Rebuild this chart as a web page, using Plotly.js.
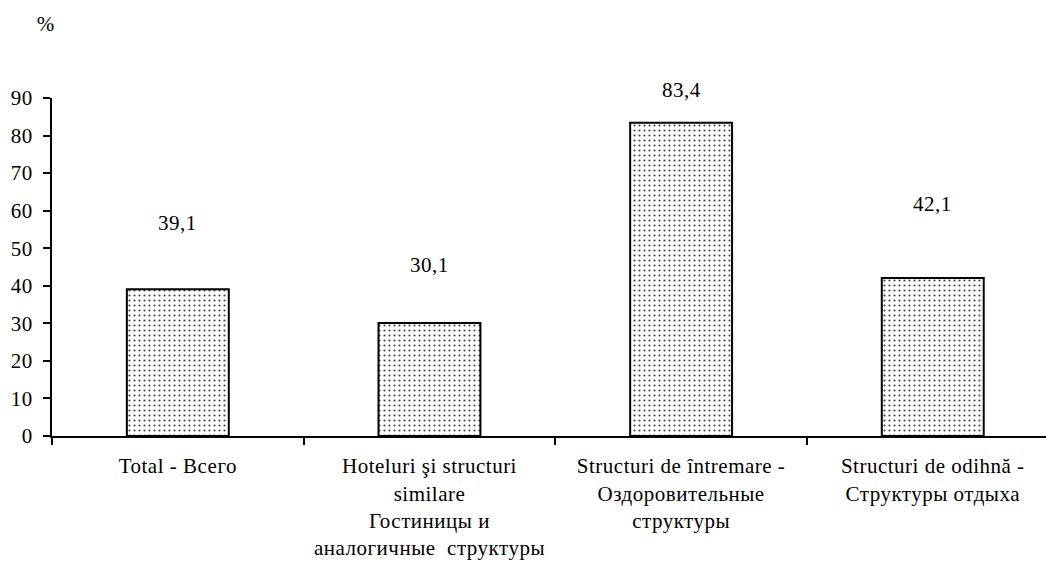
<!DOCTYPE html>
<html>
<head>
<meta charset="utf-8">
<script src="https://cdn.plot.ly/plotly-3.0.1.min.js"></script>
<style>
html,body{margin:0;padding:0;background:#fff;}
#chart{width:1046px;height:567px;}
#chart text{letter-spacing:0.5px;}
</style>
</head>
<body>
<div id="chart"></div>
<script>
const categories = [
  "Total - Всего",
  "Hoteluri şi structuri<br>similare<br>Гостиницы и<br>аналогичные  структуры",
  "Structuri de întremare -<br>Оздоровительные<br>структуры",
  "Structuri de odihnă -<br>Структуры отдыха"
];
const values = [39.1, 30.1, 83.4, 42.1];
const valueLabels = ["39,1", "30,1", "83,4", "42,1"];
const labelShift = [66, 58, 33, 74];
const yTicks = [0, 10, 20, 30, 40, 50, 60, 70, 80, 90];

const font = {family: "'Liberation Serif', 'Times New Roman', serif", size: 21, color: "#000"};

const trace = {
  type: "bar",
  x: categories,
  y: values,
  width: 0.405,
  marker: {
    color: "#ffffff",
    line: {color: "#000", width: 2},
    pattern: {shape: ".", fgcolor: "#444", bgcolor: "#fff", size: 5, solidity: 0.15}
  },
  hoverinfo: "none"
};

const annotations = values.map((v, i) => ({
  x: categories[i], y: v, xref: "x", yref: "y",
  text: valueLabels[i], showarrow: false, yanchor: "middle",
  yshift: labelShift[i], font: font
}));
annotations.push({
  xref: "paper", yref: "paper", x: -0.006, y: 1.22, xanchor: "center", yanchor: "middle",
  text: "%", showarrow: false, font: font
});

const layout = {
  width: 1046, height: 567,
  margin: {l: 52, r: 0, t: 98, b: 131},
  paper_bgcolor: "#fff", plot_bgcolor: "#fff",
  font: font,
  showlegend: false,
  xaxis: {
    type: "category",
    range: [-0.5, 3.45],
    showline: true, linecolor: "#000", linewidth: 2,
    ticks: "outside", tickson: "boundaries", ticklen: 7, tickwidth: 2, tickcolor: "#000",
    ticklabelstandoff: 10,
    showgrid: false, zeroline: false, fixedrange: true,
    tickfont: font
  },
  yaxis: {
    range: [0, 90],
    tickvals: yTicks,
    ticktext: yTicks.map(String),
    showline: true, linecolor: "#000", linewidth: 2,
    ticks: "outside", ticklen: 7, tickwidth: 2, tickcolor: "#000",
    ticklabelstandoff: 6,
    showgrid: false, zeroline: false, fixedrange: true,
    tickfont: font
  },
  annotations: annotations
};

Plotly.newPlot("chart", [trace], layout, {displayModeBar: false, staticPlot: true});
</script>
</body>
</html>
